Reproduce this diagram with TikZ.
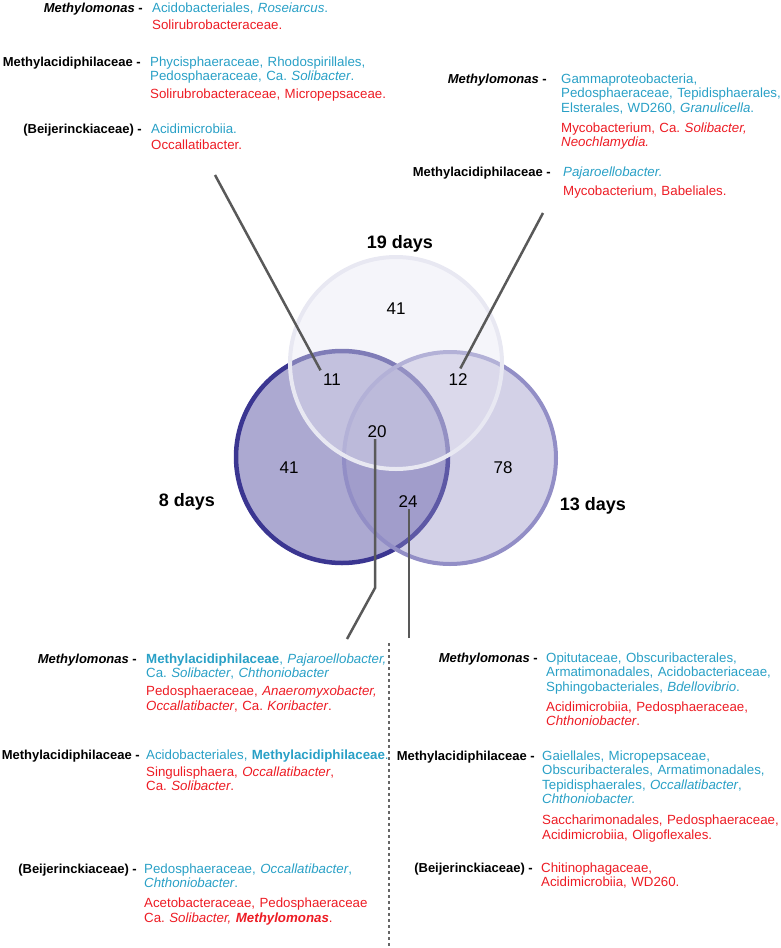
\documentclass[tikz,border=0pt]{standalone}
\usepackage{fontspec}
\setmainfont{Liberation Sans}
\usepackage{tikz}
\usetikzlibrary{positioning}
\definecolor{taxcyan}{RGB}{41,160,198}
\definecolor{taxred}{RGB}{237,28,36}
\definecolor{vennDark}{RGB}{172,169,209}
\definecolor{vennDarkLine}{RGB}{59,54,145}
\definecolor{vennMid}{RGB}{145,140,195}
\definecolor{vennMidLine}{RGB}{146,142,198}
\definecolor{vennLight}{RGB}{230,230,242}
\definecolor{vennLightLine}{RGB}{232,232,242}
\newcommand\cyTxt[1]{\textcolor{taxcyan}{#1}}
\newcommand\rdTxt[1]{\textcolor{taxred}{#1}}

\begin{document}
\frenchspacing
\begin{tikzpicture}[x=1pt,y=-1pt,
        lbl/.style={font=\fontsize{13}{14.5}\selectfont\bfseries, anchor=base east, inner sep=0pt},
        blk/.style={font=\fontsize{13.3}{14.5}\selectfont\frenchspacing, anchor=base west, inner sep=0pt, text width=260pt, align=left},
        num/.style={font=\fontsize{17}{20}\selectfont, inner sep=1pt},
        day/.style={font=\fontsize{18}{20}\selectfont\bfseries},
        leader/.style={draw=black!65, line width=2.5pt}]
        \useasboundingbox (0,0) rectangle (780,948);

        % venn circles
        \draw[fill=vennDark, draw=vennDarkLine, line width=4.5pt] (342,457) circle (106);
        \draw[fill=vennMid, fill opacity=0.4, draw=vennMidLine, line width=4pt] (450,458) circle (106);
        \draw[fill=vennLight, fill opacity=0.4, draw=vennLightLine, line width=4pt] (396,363) circle (106);

        \node[num] (n41a) at (396,309) {41};
        \node[num] (n11) at (332,380) {11};
        \node[num] (n12) at (458,380) {12};
        \node[num] (n20) at (377,432) {20};
        \node[num] (n41b) at (289,468) {41};
        \node[num] (n78) at (503,468) {78};
        \node[num] (n24) at (408,502) {24};

        \node[day] (d19) at (400,244) {19 days};
        \node[day] (d8) at (187,502) {8 days};
        \node[day] (d13) at (593,506) {13 days};

        % leaders
        \coordinate (l11) at (215,175);
        \coordinate (l12) at (543,213);
        \coordinate (k20) at (375,588);
        \coordinate (e20) at (347,639);
        \coordinate (e24) at (409,638);
        \draw[leader, shorten >=3pt] (l11) -- (n11.north west);
        \draw[leader, shorten >=5pt] (l12) -- (n12.north);
        \draw[leader] (e20) -- (k20) -- (k20 |- n20.south);
        \draw[leader] (e24) -- (e24 |- n24.south);

        \coordinate (dTop) at (389,643);
        \coordinate (dBot) at (389,948);
        \draw[black!60, line width=1.8pt, dash pattern=on 3pt off 3pt] (dTop) -- (dBot);

        % top left
        \node[lbl] (tlA) at (143,12) {\textit{Methylomonas} -};
        \node[blk] (tlAt) at (152,12) {\cyTxt{Acidobacteriales, \textit{Roseiarcus}.}\\[2.5pt]
            \rdTxt{Solirubrobacteraceae.}};
        \node[lbl] (tlB) at (141,66) {Methylacidiphilaceae -};
        \node[blk] (tlBt) at (150,66) {\cyTxt{Phycisphaeraceae, Rhodospirillales,\\ Pedosphaeraceae, Ca. \textit{Solibacter}.}\\[3.5pt]
            \rdTxt{Solirubrobacteraceae, Micropepsaceae.}};
        \node[lbl] (tlC) at (142,133) {(Beijerinckiaceae) -};
        \node[blk] (tlCt) at (151,133) {\cyTxt{Acidimicrobiia.}\\[1.5pt]
            \rdTxt{Occallatibacter.}};

        % top right
        \node[lbl] (trA) at (547,83) {\textit{Methylomonas} -};
        \node[blk] (trAt) at (561,83) {\cyTxt{Gammaproteobacteria,\\ Pedosphaeraceae, Tepidisphaerales,\\ Elsterales, WD260, \textit{Granulicella}.}\\[5.5pt]
            \rdTxt{Mycobacterium, Ca. \textit{Solibacter,}\\ \textit{Neochlamydia.}}};
        \node[lbl] (trB) at (551,176) {Methylacidiphilaceae -};
        \node[blk] (trBt) at (563,176) {\cyTxt{\textit{Pajaroellobacter.}}\\[4.5pt]
            \rdTxt{Mycobacterium, Babeliales.}};

        % bottom left
        \node[lbl] (blA) at (137,663) {\textit{Methylomonas} -};
        \node[blk] (blAt) at (146,663) {\cyTxt{\textbf{Methylacidiphilaceae}, \textit{Pajaroellobacter,}\\ Ca. \textit{Solibacter}, \textit{Chthoniobacter}}\\[3.5pt]
            \rdTxt{Pedosphaeraceae, \textit{Anaeromyxobacter,}\\ \textit{Occallatibacter}, Ca. \textit{Koribacter}.}};
        \node[lbl] (blB) at (140,759) {Methylacidiphilaceae -};
        \node[blk] (blBt) at (146,759) {\cyTxt{Acidobacteriales, \textbf{Methylacidiphilaceae}.}\\[2.5pt]
            \rdTxt{Singulisphaera, \textit{Occallatibacter},\\ Ca. \textit{Solibacter}.}};
        \node[lbl] (blC) at (137,873) {(Beijerinckiaceae) -};
        \node[blk] (blCt) at (144,873) {\cyTxt{Pedosphaeraceae, \textit{Occallatibacter},\\ \textit{Chthoniobacter}.}\\[5.5pt]
            \rdTxt{Acetobacteraceae, Pedosphaeraceae\\ Ca. \textit{Solibacter, \textbf{Methylomonas}}.}};

        % bottom right
        \node[lbl] (brA) at (538,662) {\textit{Methylomonas} -};
        \node[blk] (brAt) at (546,662) {\cyTxt{Opitutaceae, Obscuribacterales,\\ Armatimonadales, Acidobacteriaceae,\\ Sphingobacteriales, \textit{Bdellovibrio}.}\\[5.5pt]
            \rdTxt{Acidimicrobiia, Pedosphaeraceae,\\ \textit{Chthoniobacter}.}};
        \node[lbl] (brB) at (535,760) {Methylacidiphilaceae -};
        \node[blk] (brBt) at (542,760) {\cyTxt{Gaiellales, Micropepsaceae,\\ Obscuribacterales, Armatimonadales,\\ Tepidisphaerales, \textit{Occallatibacter},\\ \textit{Chthoniobacter.}}\\[6.5pt]
            \rdTxt{Saccharimonadales, Pedosphaeraceae,\\ Acidimicrobiia, Oligoflexales.}};
        \node[lbl] (brC) at (533,872) {(Beijerinckiaceae) -};
        \node[blk] (brCt) at (541,872) {\rdTxt{Chitinophagaceae,\\ Acidimicrobiia, WD260.}};
    \end{tikzpicture}
\end{document}
